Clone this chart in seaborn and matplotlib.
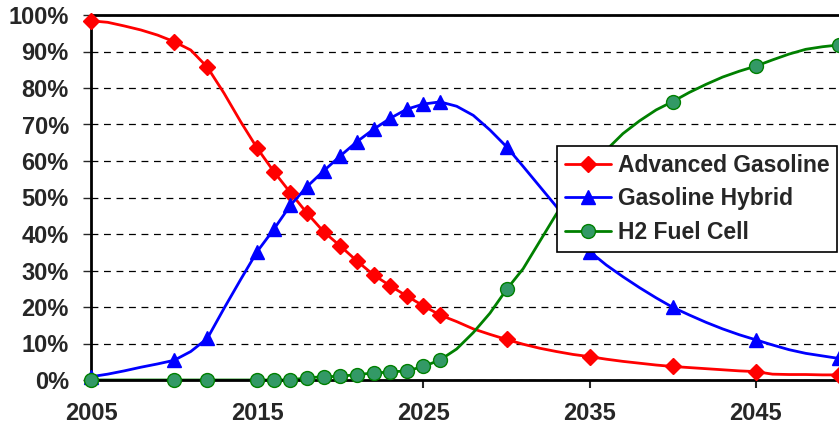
import numpy as np
import pandas as pd
import matplotlib.pyplot as plt
import seaborn as sns
from matplotlib.lines import Line2D
from matplotlib.ticker import PercentFormatter

# Market share by technology (percent)
years = list(range(2005, 2051))
advanced_gasoline = [98.4, 98.0, 97.0, 95.9, 94.5, 92.7, 90.4, 85.7, 78.6, 70.8,
                     63.5, 57.1, 51.3, 45.7, 40.6, 36.7, 32.6, 28.8, 25.8, 23.0,
                     20.3, 17.8, 16.0, 14.0, 12.5, 11.1, 9.8, 8.7, 7.8, 7.0,
                     6.4, 5.7, 5.1, 4.6, 4.1, 3.7, 3.4, 3.1, 2.8, 2.5,
                     2.3, 1.6, 1.5, 1.5, 1.4, 1.4]
gasoline_hybrid = [0.9, 1.6, 2.5, 3.5, 4.4, 5.4, 7.8, 11.4, 19.6, 27.5,
                   35.2, 41.3, 47.9, 53.0, 57.3, 61.4, 65.3, 68.7, 71.7, 74.2,
                   75.6, 76.2, 75.0, 72.5, 68.5, 63.9, 58.5, 53.0, 47.5, 41.3,
                   35.2, 31.5, 28.3, 25.3, 22.5, 19.9, 17.8, 15.8, 14.0, 12.4,
                   11.0, 9.6, 8.3, 7.3, 6.6, 5.9]
h2_fuel_cell = [0, 0, 0, 0, 0, 0, 0, 0, 0, 0,
                0, 0, 0, 0.6, 0.9, 1.0, 1.5, 1.9, 2.2, 2.5,
                3.7, 5.5, 8.5, 13.0, 18.3, 24.8, 30.5, 38.0, 45.5, 52.0,
                58.0, 63.0, 67.5, 71.0, 74.0, 76.3, 78.8, 81.0, 83.0, 84.6,
                86.0, 87.7, 89.3, 90.6, 91.3, 91.8]
marker_years = [2005, 2010, 2012, 2015, 2016, 2017, 2018, 2019, 2020, 2021,
                2022, 2023, 2024, 2025, 2026, 2030, 2035, 2040, 2045, 2050]
tick_years = [2005, 2015, 2025, 2035, 2045]

series = {
    "Advanced Gasoline": advanced_gasoline,
    "Gasoline Hybrid": gasoline_hybrid,
    "H2 Fuel Cell": h2_fuel_cell,
}
styles = {
    "Advanced Gasoline": dict(color="#FF0000", marker="D", ms=8, mfc="#FF0000", mec="#FF0000"),
    "Gasoline Hybrid": dict(color="#0000FF", marker="^", ms=10.5, mfc="#0000FF", mec="#0000FF"),
    "H2 Fuel Cell": dict(color="#008000", marker="o", ms=10, mfc="#339966", mec="#008000"),
}

df = pd.concat(
    [pd.DataFrame({"Year": years, "Share": vals, "Technology": name}) for name, vals in series.items()],
    ignore_index=True,
)
df["Share"] = df["Share"] / 100

sns.set_style("white")
plt.rcParams["font.family"] = ["Liberation Sans", "DejaVu Sans"]
plt.rcParams["font.weight"] = "bold"

fig = plt.figure(figsize=(8.39, 4.28), dpi=100)
ax = fig.add_axes([91 / 839, 48 / 428, 748 / 839, 365 / 428])

handles = []
for name in series:
    st = styles[name]
    sub = df[df["Technology"] == name]
    sns.lineplot(data=sub, x="Year", y="Share", ax=ax, color=st["color"], lw=2, legend=False)
    pts = sub[sub["Year"].isin(marker_years)]
    sns.lineplot(data=pts, x="Year", y="Share", ax=ax, lw=0, marker=st["marker"], ms=st["ms"],
                 markerfacecolor=st["mfc"], markeredgecolor=st["mec"], markeredgewidth=1,
                 legend=False, clip_on=False, zorder=5)
    handles.append(Line2D([], [], color=st["color"], lw=2, marker=st["marker"], ms=st["ms"],
                          mfc=st["mfc"], mec=st["mec"], mew=1))

ax.set_xlim(2005, 2050)
ax.set_ylim(0, 1)
ax.set_xticks(tick_years)
ax.set_yticks(np.arange(0, 1.01, 0.1))
ax.yaxis.set_major_formatter(PercentFormatter(1.0, decimals=0))
ax.set_xlabel("")
ax.set_ylabel("")

ax.yaxis.grid(True, linestyle=(0, (5.5, 4.5)), color="black", lw=0.9)
ax.xaxis.grid(False)
ax.set_axisbelow(True)

for side in ["left", "bottom", "top"]:
    ax.spines[side].set_visible(True)
    ax.spines[side].set_color("black")
    ax.spines[side].set_linewidth(2)
ax.spines["right"].set_visible(False)

ax.tick_params(axis="x", direction="out", length=6, width=1.5, pad=10, labelsize=17, bottom=True)
ax.tick_params(axis="y", direction="out", length=6, width=1, pad=10, labelsize=17, left=True)
for lab in ax.get_xticklabels() + ax.get_yticklabels():
    lab.set_fontweight("bold")

leg = ax.legend(handles, list(series.keys()), loc="upper left", bbox_to_anchor=(0.623, 0.641),
                borderaxespad=0, frameon=True, fancybox=False, framealpha=1, edgecolor="black",
                prop={"weight": "bold", "size": 16.5}, handlelength=2.0, handletextpad=0.3,
                labelspacing=0.45, borderpad=0.35)
leg.get_frame().set_linewidth(1.2)
leg.set_zorder(10)

fig.savefig("out.png", dpi=100)
